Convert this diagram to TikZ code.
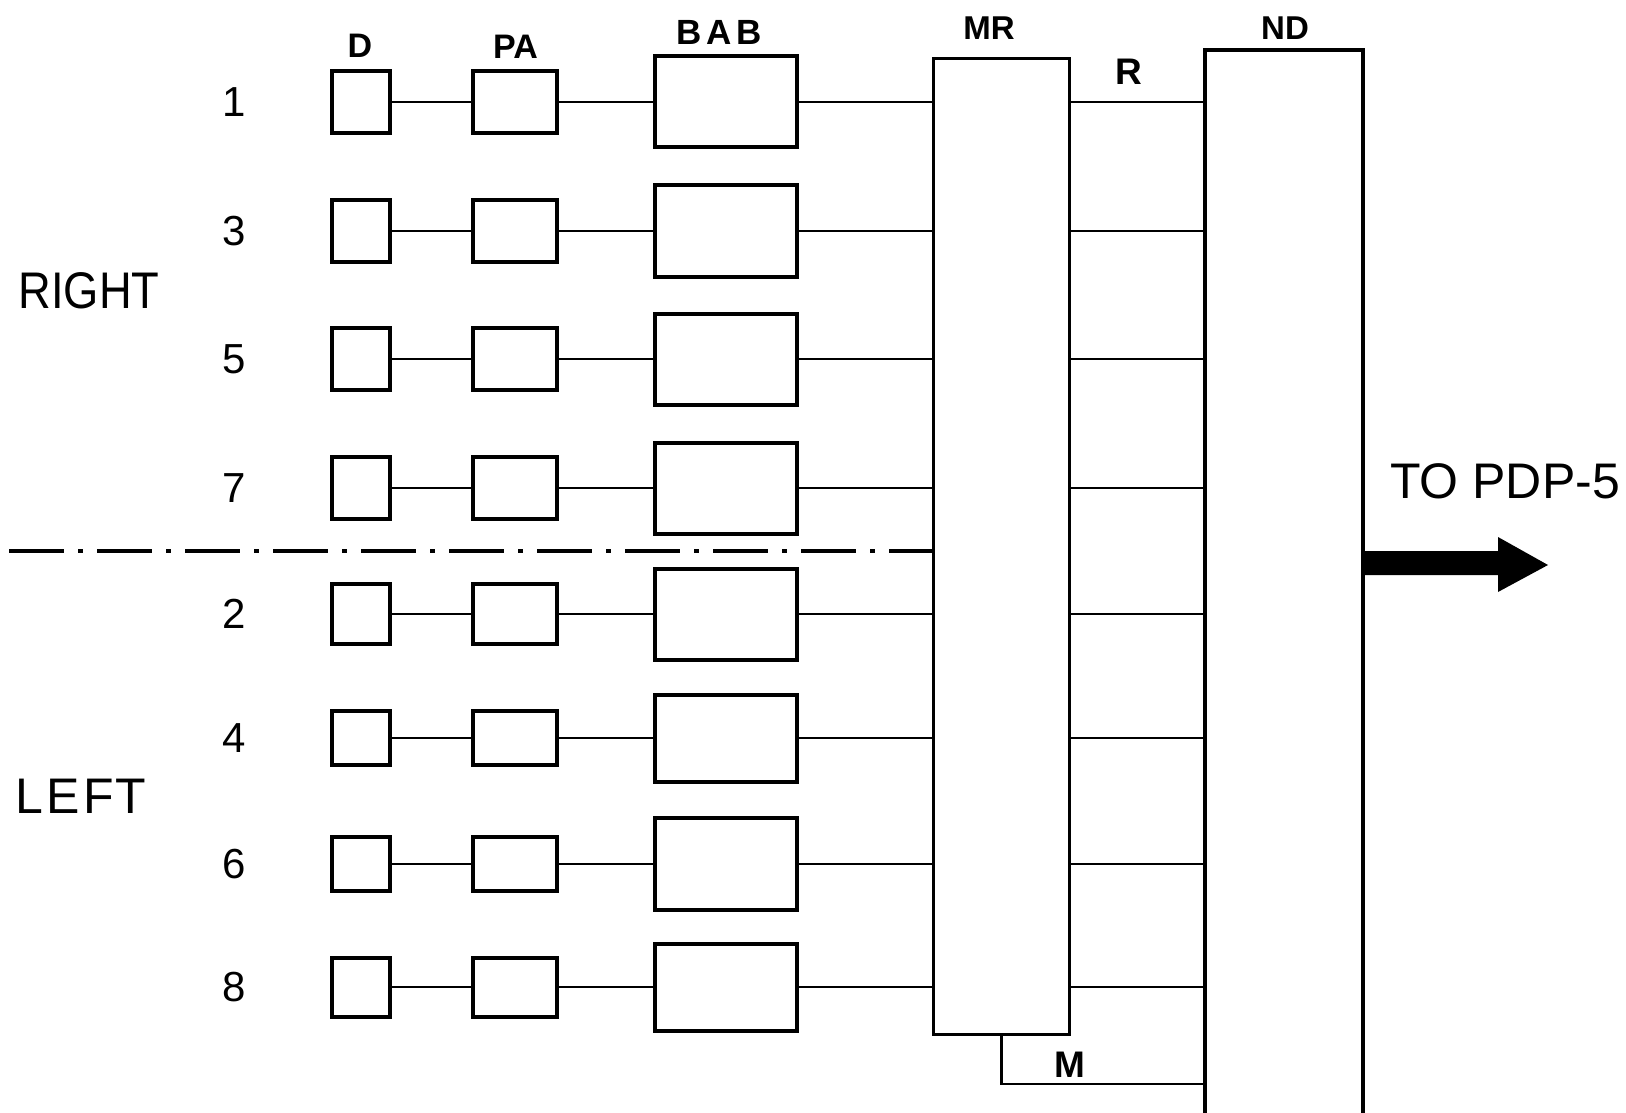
\documentclass[tikz,border=0pt]{standalone}
\usepackage{fontspec}
\setmainfont{Liberation Sans}
\newfontfamily\narrowsans[FakeStretch=0.88]{Liberation Sans}
\begin{document}
\begin{tikzpicture}[x=1pt,y=-1pt,
  unit/.style={draw,line width=4pt,inner sep=0pt,outer sep=0pt},
  dbox/.style={unit,minimum width=58pt,minimum height=#1},
  pabox/.style={unit,minimum width=84pt,minimum height=#1},
  babbox/.style={unit,minimum width=142pt,minimum height=#1},
  tall/.style={draw,line width=3.5pt,inner sep=0pt,outer sep=0pt},
  wire/.style={line width=2.2pt},
  bus/.style={line width=2.6pt},
  head/.style={inner sep=0pt,font=\bfseries\fontsize{34}{34}\selectfont},
  chan/.style={inner sep=0pt,font=\fontsize{42}{42}\selectfont},
  side/.style={inner sep=0pt,font=\fontsize{50}{50}\selectfont},
  divider/.style={line width=3.6pt,dash pattern=on 55pt off 14pt on 5pt off 14pt}
]
\useasboundingbox (0,0) rectangle (1626,1113);
\fill[white] (0,0) rectangle (1626,1113);
\clip (0,0) rectangle (1626,1113);

% column headings
\node[head] (hd) at (360,46) {D};
\node[head] (hpa) at (515.5,47) {PA};
\node[head,font=\bfseries\fontsize{35}{35}\selectfont] (hbab) at (719,32) {B\kern5pt A\kern5pt B};
\node[head,font=\bfseries\fontsize{33}{33}\selectfont] (hmr) at (989,28) {MR};
\node[head,font=\bfseries\fontsize{33}{33}\selectfont] (hnd) at (1285,28) {ND};

% multiplexer / register and output blocks
\node[tall,minimum width=136pt,minimum height=976pt] (mr) at (1001.5,546.5) {};
\node[tall,minimum width=158pt,minimum height=1080pt] (nd) at (1284,590) {};

% eight detector channels: label / row / small box height / BAB height
\foreach \ch/\y/\sh/\bh in {1/102/62/91, 3/231/62/91, 5/359/62/91, 7/488/62/91,
                            2/614/60/91, 4/738/54/87, 6/864/54/92, 8/987/59/87} {
  \node[chan] (n\ch) at (234,\y) {\ch};
  \node[dbox=\sh pt] (d\ch) at (361,\y) {};
  \node[pabox=\sh pt] (pa\ch) at (515,\y) {};
  \node[babbox=\bh pt] (bab\ch) at (725.5,\y) {};
  \draw[wire] (d\ch.east) -- (pa\ch.west);
  \draw[wire] (pa\ch.east) -- (bab\ch.west);
  \draw[wire] (bab\ch.east) -- (bab\ch.east -| mr.west);
  \draw[bus] (bab\ch.east -| mr.east) -- (bab\ch.east -| nd.west);
}

% R and M links between MR and ND
\node[head,font=\bfseries\fontsize{37}{37}\selectfont] (lr) at (1129,72) {R};
\coordinate (mlevel) at (0,1084);
\draw[bus] (mr.south) |- (nd.west |- mlevel);
\node[head,font=\bfseries\fontsize{37}{37}\selectfont] (lm) at (1070,1065) {M};

% right / left halves
\node[side,font=\narrowsans\fontsize{51.5}{51.5}\selectfont] (right) at (89,290.5) {RIGHT};
\node[side] (left) at (81,796) {L\kern3pt E\kern3pt F\kern2pt T};
\coordinate (divstart) at (9,551);
\draw[divider] (divstart) -- (divstart -| mr.west);

% output to the computer
\node[side] (pdp) at (1505,481) {TO PDP-5};
\coordinate (arow) at (0,563);
\coordinate (tip) at (1548,565);
\fill (nd.east |- arow) ++(-1,-12) -- ([shift={(-50,-14)}]tip) -- ([shift={(-50,-28)}]tip)
  -- (tip) -- ([shift={(-50,27)}]tip) -- ([shift={(-50,10)}]tip) -- ([shift={(-1,12)}]nd.east |- arow) -- cycle;
\end{tikzpicture}
\end{document}
